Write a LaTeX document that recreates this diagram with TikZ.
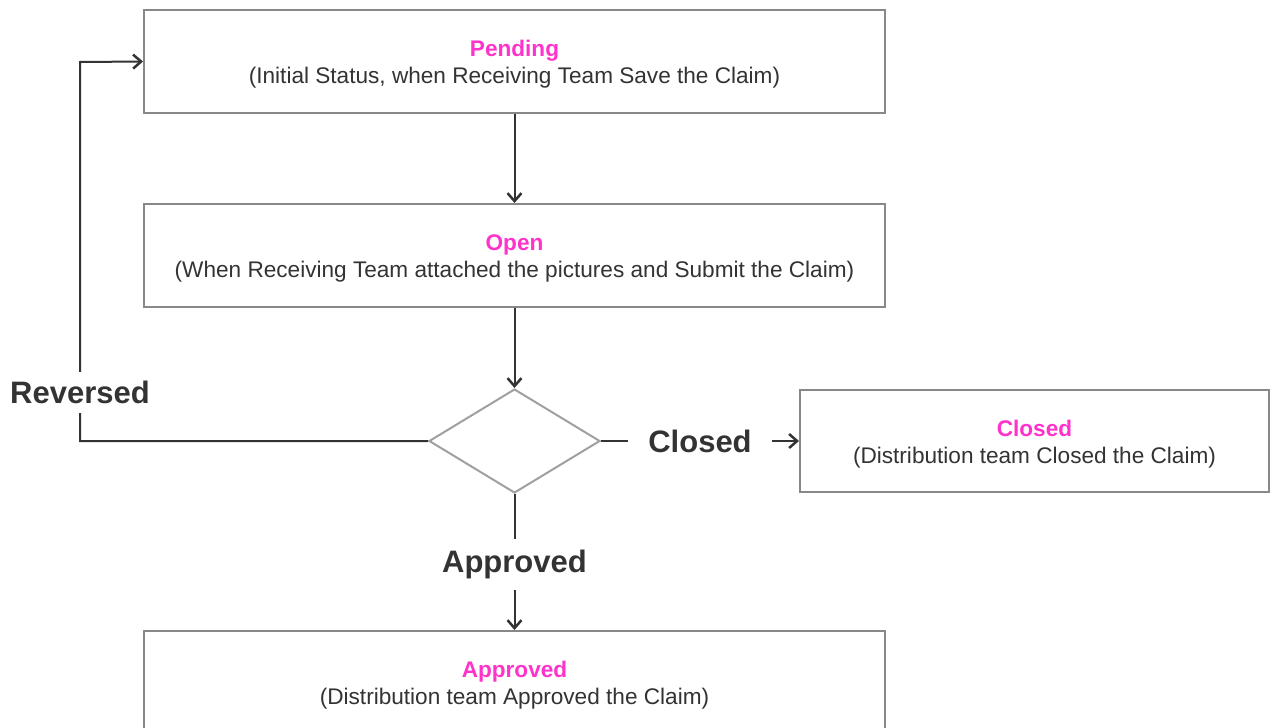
\documentclass[tikz,border=0pt]{standalone}
\usepackage{fontspec}
\setmainfont{Liberation Sans}
\usetikzlibrary{shapes.geometric,arrows.meta}
\definecolor{mag}{HTML}{FF33CC}
\definecolor{txt}{HTML}{333333}
\definecolor{bord}{HTML}{888888}
\newcommand{\topstrut}{\rule{0pt}{22pt}}
\begin{document}
\begin{tikzpicture}[x=1pt,y=-1pt,
  box/.style={draw=bord,line width=2pt,fill=white,minimum height=103pt,inner sep=0pt,align=center,text=txt,font=\fontsize{22.6}{27}\selectfont},
  dec/.style={draw=bord!80,line width=2pt,diamond,minimum width=171pt,minimum height=104pt,inner sep=0pt,aspect=1.64},
  conn/.style={draw=txt,line width=2pt},
  arr/.style={conn,-{Straight Barb[length=8pt,width=14pt,line width=2.5pt]}},
  lbl/.style={fill=white,text=txt,font=\bfseries\fontsize{31}{34}\selectfont,inner xsep=20pt,inner ysep=6pt}]
\useasboundingbox (0,0) rectangle (1272,728);
\node[box,minimum width=741pt] (pend) at (514.5,61.5) {\topstrut\textcolor{mag}{\textbf{Pending}}\\(Initial Status, when Receiving Team Save the Claim)};
\node[box,minimum width=741pt] (open) at (514.5,255.5) {\topstrut\textcolor{mag}{\textbf{Open}}\\(When Receiving Team attached the pictures and Submit the Claim)};
\node[dec] (dia) at (514.5,441) {};
\node[box,minimum width=469pt,minimum height=102pt] (closed) at (1034.5,441) {\topstrut\textcolor{mag}{\textbf{Closed}}\\(Distribution team Closed the Claim)};
\node[box,minimum width=741pt] (appr) at (514.5,682.5) {\topstrut\textcolor{mag}{\textbf{Approved}}\\(Distribution team Approved the Claim)};
\coordinate (c1) at (80,441);
\coordinate (c2) at (80,62);
\draw[arr] (pend) -- (open);
\draw[arr] (open) -- (dia);
\draw[arr] (dia.west) -- (c1) -- node[lbl,pos=0.127,inner xsep=2pt,inner ysep=9pt] {Reversed} (c2) -- (pend.west);
\draw[arr] (dia.east) -- node[lbl,pos=0.5] {Closed} (closed.west);
\draw[arr] (dia.south) -- node[lbl,pos=0.52,inner ysep=11pt] {Approved} (appr.north);
\end{tikzpicture}
\end{document}
